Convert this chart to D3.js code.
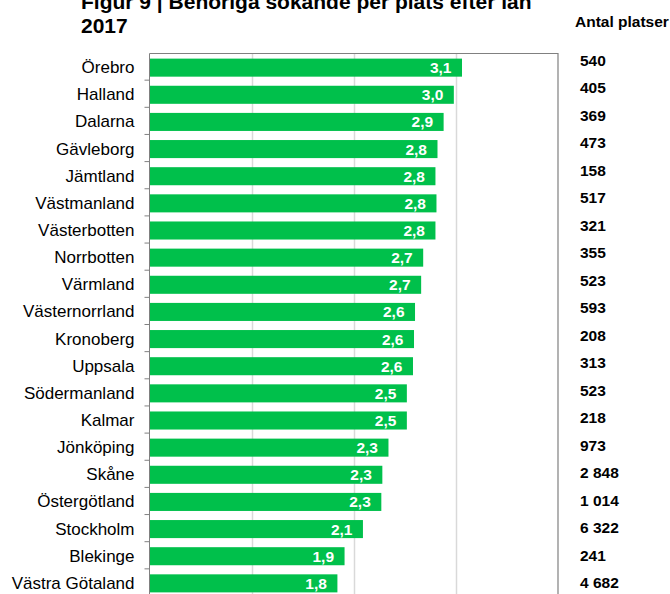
<!DOCTYPE html>
<html>
<head>
<meta charset="utf-8">
<script src="https://cdn.jsdelivr.net/npm/d3@7"></script>
<style>
  body { margin: 0; background: #fff; }
  text { font-family: "Liberation Sans", Arial, sans-serif; }
</style>
</head>
<body>
<div id="vizcontainer"></div>
<script>
const
  width = 670,
  height = 594
  ;

// behöriga sökande per plats, per län
const regions = ['Örebro', 'Halland', 'Dalarna', 'Gävleborg', 'Jämtland', 'Västmanland',
  'Västerbotten', 'Norrbotten', 'Värmland', 'Västernorrland', 'Kronoberg', 'Uppsala',
  'Södermanland', 'Kalmar', 'Jönköping', 'Skåne', 'Östergötland', 'Stockholm',
  'Blekinge', 'Västra Götaland'];
const applicants = [3.06, 2.98, 2.88, 2.82, 2.80, 2.81, 2.80, 2.68, 2.66, 2.60, 2.59, 2.58,
  2.52, 2.52, 2.34, 2.28, 2.27, 2.09, 1.91, 1.84];
const places = ['540', '405', '369', '473', '158', '517', '321', '355', '523', '593', '208',
  '313', '523', '218', '973', '2 848', '1 014', '6 322', '241', '4 682'];
const xTicks = [0, 1, 2, 3, 4];

const titleLines = ['Figur 9 | Behöriga sökande per plats efter län', '2017'];
const placesTitle = 'Antal platser';

const svFormat = d3.formatLocale({ decimal: ',', thousands: ' ', grouping: [3], currency: ['', ' kr'] }).format('.1f');

let xScale = d3.scaleLinear()
  .domain([0, 4])
  .range([149.5, 558]);

let yScale = d3.scaleBand()
  .domain(regions)
  .range([54, 597])
  .paddingInner(0.335)
  .paddingOuter(0.17);

// the table on the right sits on its own row grid
let tableY = d3.scalePoint()
  .domain(regions)
  .range([60, 582.5]);

let viz = d3.select('#vizcontainer')
  .append('svg')
  .attr('width', width)
  .attr('height', height);

// title (first line runs off the top, as in the source)
viz.append('g')
  .selectAll('text')
  .data(titleLines)
  .join('text')
  .attr('x', 81)
  .attr('y', (d, i) => 8.5 + i * 24.5)
  .attr('font-size', 21)
  .attr('font-weight', 'bold')
  .attr('fill', '#000')
  .text(d => d);

// gridlines
viz.append('g')
  .selectAll('line')
  .data(xTicks.filter(d => d > 0 && d < 4))
  .join('line')
  .attr('x1', d => Math.round(xScale(d)) + 0.5)
  .attr('x2', d => Math.round(xScale(d)) + 0.5)
  .attr('y1', 53)
  .attr('y2', height + 10)
  .attr('stroke', '#d9d9d9')
  .attr('stroke-width', 1.5);

// plot frame (top and right)
viz.append('path')
  .attr('d', `M${xScale(0)},53.5H${xScale(4)}V${height + 10}`)
  .attr('fill', 'none')
  .attr('stroke', '#808080')
  .attr('stroke-width', 1.2);

// bars
viz.append('g')
  .selectAll('rect')
  .data(regions)
  .join('rect')
  .attr('x', xScale(0))
  .attr('y', d => yScale(d))
  .attr('width', (d, i) => xScale(applicants[i]) - xScale(0))
  .attr('height', yScale.bandwidth())
  .attr('fill', '#00c04b');

// value labels inside bars
viz.append('g')
  .selectAll('text')
  .data(regions)
  .join('text')
  .attr('x', (d, i) => xScale(applicants[i]) - 10.5)
  .attr('y', d => yScale(d) + yScale.bandwidth() / 2 + 5.5)
  .attr('text-anchor', 'end')
  .attr('font-size', 15.5)
  .attr('font-weight', 'bold')
  .attr('fill', '#fff')
  .text((d, i) => svFormat(applicants[i]));

// category axis
let yAxis = d3.axisLeft(yScale)
  .tickSize(5)
  .tickPadding(10)
  .tickValues([]);

let axisG = viz.append('g')
  .attr('transform', `translate(${xScale(0)},0)`)
  .call(yAxis);
axisG.select('.domain')
  .attr('d', `M0,53.5V${height + 10}`)
  .attr('stroke', '#808080');

// ticks sit between the categories
let boundaries = d3.range(1, regions.length + 1).map(i => 54 + i * (597 - 54) / regions.length);
axisG.append('g')
  .selectAll('line')
  .data(boundaries)
  .join('line')
  .attr('x1', -5)
  .attr('x2', 0)
  .attr('y1', d => d - 1)
  .attr('y2', d => d - 1)
  .attr('stroke', '#808080');

axisG.append('g')
  .selectAll('text')
  .data(regions)
  .join('text')
  .attr('x', -15)
  .attr('y', d => yScale(d) + yScale.bandwidth() / 2 + 5.5)
  .attr('text-anchor', 'end')
  .attr('font-size', 17)
  .attr('fill', '#000')
  .text(d => d);

// antal platser table
viz.append('text')
  .attr('x', 575)
  .attr('y', 26.5)
  .attr('font-size', 15.5)
  .attr('font-weight', 'bold')
  .attr('fill', '#000')
  .text(placesTitle);

viz.append('g')
  .selectAll('text')
  .data(regions)
  .join('text')
  .attr('x', 580)
  .attr('y', d => tableY(d) + 5.5)
  .attr('font-size', 15.5)
  .attr('font-weight', 'bold')
  .attr('fill', '#000')
  .text((d, i) => places[i]);
</script>
</body>
</html>
